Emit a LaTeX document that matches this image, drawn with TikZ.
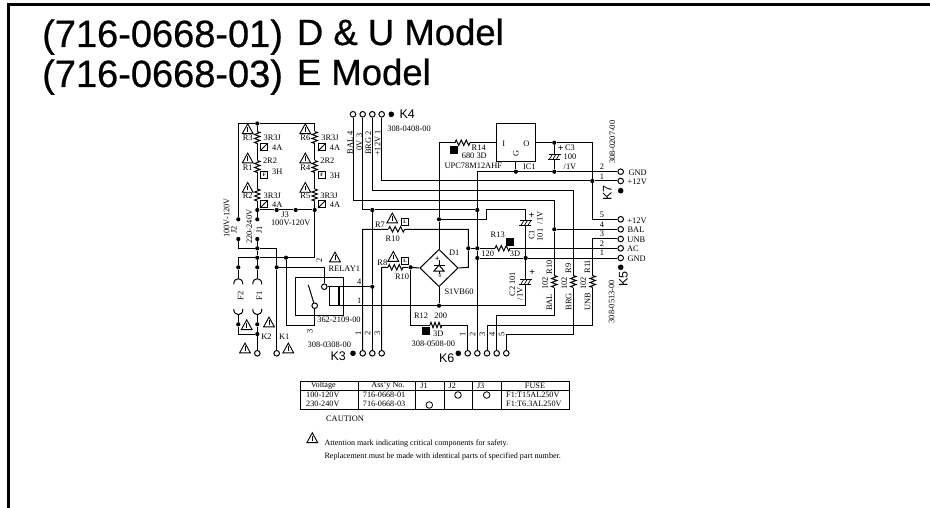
\documentclass[tikz,border=0pt]{standalone}
\usepackage{fontspec}
\setmainfont{Liberation Serif}
\newfontfamily\titlefont{Liberation Sans}
\newfontfamily\headfont[FakeBold=0.6]{Liberation Sans}
\usetikzlibrary{shapes.geometric}

\tikzset{
  wire/.style={line width=1pt},
  lab/.style={font=\fontsize{8.4}{9}\selectfont,inner sep=0pt},
  rlab/.style={lab,rotate=90},
  tbl/.style={font=\fontsize{8.2}{9}\selectfont,inner sep=0pt},
  note/.style={font=\fontsize{8.1}{9}\selectfont,inner sep=0pt,anchor=base west},
  klab/.style={font=\titlefont\fontsize{12.5}{13}\selectfont,inner sep=0pt},
  titnum/.style={font=\headfont\fontsize{38}{39}\selectfont,inner sep=0pt,anchor=base west},
  titmod/.style={font=\headfont\fontsize{36.5}{38}\selectfont,inner sep=0pt,anchor=base west},
  dot/.style={circle,fill=black,inner sep=0pt,minimum size=4.2pt},
  kdot/.style={circle,fill=black,inner sep=0pt,minimum size=5.6pt},
  term/.style={circle,draw,fill=white,line width=1pt,inner sep=0pt,minimum size=5.6pt},
  jmark/.style={circle,draw,line width=.8pt,inner sep=0pt,minimum size=6.6pt},
  bsq/.style={fill=black,inner sep=0pt,minimum size=8pt},
  plus/.style={font=\bfseries\fontsize{10}{10}\selectfont,inner sep=0pt},
  zig/.pic={
    \fill[white] (-6,-1.2) rectangle (6,1.2);
    \draw[wire] (-6,0) -- (-5,-2.7) -- (-3,2.7) -- (-1,-2.7) -- (1,2.7) -- (3,-2.7) -- (5,2.7) -- (6,0);
  },
  warn/.pic={
    \draw[line width=.9pt,fill=white] (-5.4,4.6) -- (5.4,4.6) -- (0,-5.2) -- cycle;
    \draw[line width=.6pt] (0,-2) -- (0,2.6);
  },
  capa/.pic={
    \fill[white] (-6.5,-2.6) rectangle (6.5,2.6);
    \draw[wire] (-5.5,-2.5) -- (6.5,-2.5);
    \draw[wire] (-6.5,2.5) -- (5.5,2.5);
    \draw[line width=.7pt] (-5,2.5) -- (-2,-2.5);
    \draw[line width=.7pt] (-1.5,2.5) -- (1.5,-2.5);
    \draw[line width=.7pt] (2,2.5) -- (5,-2.5);
  },
  fuse/.pic={
    \draw[wire] (-4.5,2) .. controls (-5,-5.5) and (5,-5.5) .. (4.5,2);
  },
  slashbox/.pic={
    \draw[line width=1pt,fill=white] (-3.7,-3.7) rectangle (3.7,3.7);
    \draw[wire] (-3.7,3.7) -- (3.7,-3.7);
  },
  tagbox/.pic={
    \draw[line width=1pt,fill=white] (-3.6,-3.6) rectangle (3.6,3.6);
    \node[font=\bfseries\fontsize{5}{5}\selectfont,inner sep=0pt] (tag) {#1};
  }
}

\begin{document}
\begin{tikzpicture}[x=1pt,y=-1pt]
\useasboundingbox (0,0) rectangle (930,508);

% Frame and heading
\draw[line width=3pt] (930,4.7) -- (8.8,4.7) -- (8.8,508);
\node[titnum] (tita) at (42,47) {(716-0668-01)};
\node[titmod] (titb) at (296.7,45) {D \& U Model};
\node[titnum] (titc) at (42,87) {(716-0668-03)};
\node[titmod] (titd) at (296.7,85) {E Model};

% Junction dots, left block
\node[dot] (jtop) at (257.3,123.5) {};
\node[dot] (ja) at (257.3,210) {};
\node[dot] (jb) at (276.7,210) {};
\node[dot] (jc) at (295.7,210) {};
\node[dot] (jd) at (314.7,210) {};
\node[dot] (je) at (257.3,219.3) {};
\node[dot] (jf) at (238.3,219.3) {};
\node[dot] (jg) at (257.3,239) {};
\node[dot] (jh) at (238.3,239) {};
\node[dot] (ji) at (257.3,248.3) {};
\node[dot] (jk) at (257.3,257.7) {};
\node[dot] (jl) at (286,257.7) {};
\node[dot] (jm) at (238.3,267.3) {};
\node[dot] (jn) at (257.3,267.3) {};
\node[dot] (jo) at (276.7,267.3) {};
\node[dot] (jp) at (238.3,324.3) {};
\node[dot] (jq) at (257.3,324.3) {};
\node[dot] (jr) at (257.3,334) {};

% Junction dots, right block
\node[dot] (js) at (372.3,210) {};
\node[dot] (jt) at (372.3,286.7) {};
\node[dot] (ju) at (439,219.3) {};
\node[dot] (jv) at (439,305.7) {};
\node[dot] (jw) at (410.7,267.3) {};
\node[dot] (jx) at (468.3,248.3) {};
\node[dot] (jy) at (477.3,248.3) {};
\node[dot] (jz) at (477.3,258) {};
\node[dot] (jaa) at (477.3,210) {};
\node[dot] (jab) at (525.7,258) {};
\node[dot] (jac) at (554.3,229.3) {};
\node[dot] (jad) at (515.9,171.7) {};
\node[dot] (jae) at (554.3,171.7) {};
\node[dot] (jaf) at (554.3,142.7) {};
\node[dot] (jag) at (592.3,181) {};

% Terminals
\node[term] (k1) at (276.7,353.3) {};
\node[term] (k2) at (257.3,353.3) {};
\node[term] (k3a) at (362.7,353.3) {};
\node[term] (k3b) at (372.3,353.3) {};
\node[term] (k3c) at (381.7,353.3) {};
\node[term] (k4a) at (353,114.3) {};
\node[term] (k4b) at (362.7,114.3) {};
\node[term] (k4c) at (372.3,114.3) {};
\node[term] (k4d) at (381.7,114.3) {};
\node[term] (k6a) at (467.7,353.3) {};
\node[term] (k6b) at (477.3,353.3) {};
\node[term] (k6c) at (487,353.3) {};
\node[term] (k6d) at (496.7,353.3) {};
\node[term] (k6e) at (506.3,353.3) {};
\node[term] (k7a) at (620.7,171.7) {};
\node[term] (k7b) at (620.7,181) {};
\node[term] (k5a) at (620.7,219.3) {};
\node[term] (k5b) at (620.7,229.3) {};
\node[term] (k5c) at (620.7,239) {};
\node[term] (k5d) at (620.7,248.3) {};
\node[term] (k5e) at (620.7,258) {};
\node[term] (rc) at (324.3,286.7) {};
\node[term] (rd) at (314.7,305.7) {};

% Connector marks
\node[kdot] (k3m) at (353,353.3) {};
\node[kdot] (k4m) at (391.3,114.3) {};
\node[kdot] (k6m) at (458.3,353.3) {};
\node[kdot] (k7m) at (620.7,190.7) {};
\node[kdot] (k5m) at (620.7,267.3) {};

% Bridge and regulator
\node[diamond,draw,wire,inner sep=0pt,minimum width=38.3pt,minimum height=37.4pt] (d1) at (439,268) {};
\node[draw,wire,inner sep=0pt,minimum width=38.3pt,minimum height=38.3pt] (ic) at (515.9,142.7) {};

% Bends
\coordinate (cr) at (314.7,257.7);
\coordinate (cl) at (238.3,257.7);
\coordinate (ci) at (276.7,248.3);
\coordinate (cg) at (286,325);
\coordinate (f2a) at (238.3,278);
\coordinate (f1a) at (257.3,278);
\coordinate (f2b) at (238.3,315.3);
\coordinate (f1b) at (257.3,315.3);
\coordinate (cp) at (238.3,334);
\coordinate (rba) at (329.3,286.7);
\coordinate (rbb) at (329.3,305.7);
\coordinate (cbal) at (554.3,200.3);
\coordinate (cbalb) at (554.3,315.7);
\coordinate (cbrg) at (573.3,190.7);
\coordinate (cbrgb) at (573.3,334.3);
\coordinate (cunb) at (592.7,325);
\coordinate (ca) at (362.7,229.3);
\coordinate (cb) at (468.3,229.3);
\coordinate (cc) at (468.3,267.3);
\coordinate (cd) at (467.7,325);
\coordinate (ce) at (410.7,325);
\coordinate (cgnd) at (477.3,171.7);
\coordinate (cf) at (592.3,142.7);
\coordinate (c1a) at (486.7,219.3);
\coordinate (c1b) at (486.7,210);
\coordinate (c1c) at (525.7,210);
\coordinate (c1d) at (525.7,305.7);

% Draw the left block wiring
\draw[wire] (jtop) -| (jf);
\draw[wire] (jtop) -| (jd);
\draw[wire] (jtop) -- (ja) -- (je);
\draw[wire] (ja) -- (jb) -- (jc) -- (jd);
\draw[wire] (jd) -- (cr) -- (jl) -- (jk) -- (cl) -- (jm);
\draw[wire] (jg) -- (ji) -- (jk) -- (jn);
\draw[wire] (jh) |- (ji) -- (ci) -- (jo) -- (k1);
\draw[wire] (jo) -| (rc);
\draw[wire] (jl) -- (cg) -| (rd);
\draw[wire] (jm) -- (f2a);
\draw[wire] (jn) -- (f1a);
\draw[wire] (f2b) -- (jp) -- (cp) -- (jr);
\draw[wire] (f1b) -- (jq) -- (jr) -- (k2);

% Draw the relay
\draw[wire] (295.7,277) rectangle (343.7,315.3);
\draw[wire] (308.3,285) -- (rd);
\draw[wire] (rc) -- (jt);
\draw[wire] (rba) -- (rbb);
\draw[wire] (338.2,286.7) -- (338.2,305.7);
\draw[wire] (339.6,286.7) -- (339.6,305.7);

% Draw the long wires
\draw[wire] (k4a) |- (cbal) -- (jac) -- (cbalb) -| (k6d);
\draw[wire] (k4b) |- (js) -- (jaa);
\draw[wire] (k4c) |- (cbrg) -- (cbrgb) -| (k6e);
\draw[wire] (k4d) |- (jag) -- (k7b);
\draw[wire] (js) -- (jt) -- (k3b);
\draw[wire] (jac) -- (k5b);
\draw[wire] (k3a) -- (ca) -- (cb) -- (jx) -- (cc) -- (d1.east);
\draw[wire] (k3c) |- (jw) -- (d1.west);
\draw[wire] (jw) -- (ce) -- (cd) -- (k6a);
\draw[wire] (jx) -- (jy) -- (k5d);
\draw[wire] (k6b) -- (jz) -- (jy) -- (jaa) -- (cgnd) -- (jad) -- (jae) -- (k7a);
\draw[wire] (jz) -- (jab) -- (k5e);
\draw[wire] (k6c) |- (cunb) |- (k5c);
\draw[wire] (ju) |- (ic.west);
\draw[wire] (ju) -- (d1.north);
\draw[wire] (d1.south) -- (jv);
\draw[wire] (ic.south) -- (jad);
\draw[wire] (ic.east) -- (jaf) -- (cf) -- (jag) |- (k5a);
\draw[wire] (jaf) -- (jae);
\draw[wire] (ju) -- (c1a) -- (c1b) -- (c1c) -- (jab) -- (c1d) -- (jv) -- (rbb);

% Draw the resistors
\pic[rotate=90] at (257.3,137.5) {zig};
\pic[rotate=90] at (257.3,166.5) {zig};
\pic[rotate=90] at (257.3,195) {zig};
\pic[rotate=90] at (314.7,137.5) {zig};
\pic[rotate=90] at (314.7,166.5) {zig};
\pic[rotate=90] at (314.7,195) {zig};
\pic[xscale=1.25] at (462.5,142.7) {zig};
\pic[xscale=1.25] at (502.5,248.3) {zig};
\pic at (436,325) {zig};
\pic[xscale=1.35] at (396.5,229.3) {zig};
\pic[xscale=1.25] at (395.5,267.3) {zig};
\pic[rotate=90] at (554.3,281.5) {zig};
\pic[rotate=90] at (573.3,281.5) {zig};
\pic[rotate=90] at (592.7,281.5) {zig};

% Draw the capacitors
\pic at (554.3,157) {capa};
\pic at (525.9,223) {capa};
\pic at (525.9,281.7) {capa};
\node[plus] (c3p) at (560.7,149) {+};
\node[plus] (c1p) at (531.7,216) {+};
\node[plus] (c2p) at (532.3,272.7) {+};

% Draw the fuses
\pic at (238.3,282.3) {fuse};
\pic at (257.3,282.3) {fuse};
\pic[yscale=-1] at (238.3,311) {fuse};
\pic[yscale=-1] at (257.3,311) {fuse};

% Draw the bridge diode
\draw[wire] (439,260) -- (439,274);
\draw[wire,fill=white] (434,271) -- (444,271) -- (439,265) -- cycle;
\draw[wire] (433.5,265) -- (444.5,265);
\node[lab] (d1p) at (437.3,259) {\bfseries +};
\node[lab,font=\fontsize{5}{5}\selectfont] (d1i) at (440,275.7) {II};

% Warning marks
\pic at (247.7,129) {warn};
\pic at (247.7,158.3) {warn};
\pic at (247.7,187.7) {warn};
\pic at (305.3,129) {warn};
\pic at (305.3,158.3) {warn};
\pic at (305.3,187.7) {warn};
\pic at (246.7,325) {warn};
\pic at (269,322.3) {warn};
\pic at (245,348.3) {warn};
\pic at (288.3,348.3) {warn};
\pic at (335,257.3) {warn};
\pic at (392.3,218.3) {warn};
\pic at (393.3,256.7) {warn};
\pic at (312.3,438) {warn};

% Part boxes and squares
\pic at (263.7,147.3) {slashbox};
\pic at (263.7,204.3) {slashbox};
\pic at (321.7,147.3) {slashbox};
\pic at (321.7,204.3) {slashbox};
\pic at (264.3,175.3) {tagbox=F};
\pic at (322,175.3) {tagbox=F};
\pic at (405,222.3) {tagbox=L};
\pic at (405,260.7) {tagbox=L};
\node[bsq] (r14q) at (454.3,149.7) {};
\node[bsq] (r13q) at (510,241.7) {};
\node[bsq] (r12q) at (425.7,331) {};

% Labels, left block
\node[lab] (r3) at (247.7,137.7) {R3};
\node[lab] (r1) at (247.7,167.3) {R1};
\node[lab] (r2) at (247.7,195.7) {R2};
\node[lab] (r6) at (305.3,137.7) {R6};
\node[lab] (r4) at (305.3,167.3) {R4};
\node[lab] (r5) at (305.3,195.7) {R5};
\node[lab] (r3v) at (272.3,137.3) {3R3J};
\node[lab] (r1v) at (270,160.7) {2R2};
\node[lab] (r2v) at (272.3,195.3) {3R3J};
\node[lab] (r6v) at (330,137.3) {3R3J};
\node[lab] (r4v) at (327.3,160.7) {2R2};
\node[lab] (r5v) at (329,195.3) {3R3J};
\node[lab] (r3a) at (277.3,147.3) {4A};
\node[lab] (r1h) at (277.3,171.3) {3H};
\node[lab] (r2a) at (277.3,204.3) {4A};
\node[lab] (r6a) at (335,147.3) {4A};
\node[lab] (r4h) at (335,176) {3H};
\node[lab] (r5a) at (335,204.3) {4A};
\node[lab] (j3) at (285,214.7) {J3};
\node[lab] (j3v) at (290.7,222.7) {100V-120V};
\node[rlab] (j1) at (259.3,230) {J1};
\node[rlab] (j2) at (234,230) {J2};
\node[rlab] (vlo) at (226.7,218) {100V-120V};
\node[rlab] (vhi) at (249.3,226.7) {220-240V};
\node[rlab] (f2l) at (240.5,296) {F2};
\node[rlab] (f1l) at (259.3,296) {F1};
\node[lab] (k2l) at (266.5,337) {K2};
\node[lab] (k1l) at (284.3,337) {K1};
\node[lab] (rly) at (344.3,269) {RELAY1};
\node[lab] (rlyn) at (339,320) {362-2109-00};
\node[rlab] (rl2) at (319.3,260.7) {2};
\node[rlab] (rl3) at (310,331.7) {3};
\node[lab] (rl4) at (359.3,281.7) {4};
\node[lab] (rl1) at (359.3,300.7) {1};

% Labels, K3 and K4
\node[lab] (k3n) at (329.3,344.3) {308-0308-00};
\node[klab] (k3l) at (338.3,356) {K3};
\node[rlab] (k3x) at (358.3,333) {1};
\node[rlab] (k3y) at (367.7,333) {2};
\node[rlab] (k3z) at (377.3,333) {3};
\node[klab] (k4l) at (407.3,114) {K4};
\node[lab] (k4n) at (409,128.3) {308-0408-00};
\node[rlab] (k4w) at (350,143) {BAL 4};
\node[rlab] (k4x) at (359.3,142) {0V 3};
\node[rlab] (k4y) at (368.3,143) {BRG 2};
\node[rlab] (k4z) at (377.7,143) {+12V 1};

% Labels, centre
\node[lab] (r7) at (380,224.3) {R7};
\node[lab] (r7v) at (392.7,239) {R10};
\node[lab] (r8) at (382.3,262.7) {R8};
\node[lab] (r8v) at (402,276.7) {R10};
\node[lab] (d1l) at (454.3,252.3) {D1};
\node[lab] (d1n) at (459,291.7) {S1VB60};
\node[lab] (r12) at (421,316) {R12};
\node[lab] (r12v) at (440.7,316) {200};
\node[lab] (r12p) at (438.3,334) {3D};
\node[lab] (k6n) at (433.3,344) {308-0508-00};
\node[klab] (k6l) at (446.7,357.7) {K6};
\node[rlab] (k6v) at (462.7,334) {1};
\node[rlab] (k6w) at (472.7,334) {2};
\node[rlab] (k6x) at (482.3,334) {3};
\node[rlab] (k6y) at (492,334) {4};
\node[rlab] (k6z) at (501.7,334) {5};
\node[lab] (r14) at (478.7,147.7) {R14};
\node[lab] (r14v) at (474.3,156) {680 3D};
\node[lab] (icn) at (473.3,166) {UPC78M12AHF};
\node[lab] (icl) at (529.3,167) {IC1};
\node[lab] (ici) at (503.7,143.3) {I};
\node[lab] (ico) at (526.3,143.3) {O};
\node[rlab] (icg) at (516,153.3) {G};
\node[lab] (c3) at (570,147.7) {C3};
\node[lab] (c3v) at (570,157) {100};
\node[lab] (c3u) at (570,167) {/1V};
\node[lab] (r13) at (497.7,235) {R13};
\node[lab] (r13v) at (487.7,253.3) {120};
\node[lab] (r13p) at (515,253.3) {3D};
\node[rlab] (c1) at (531.7,235) {C1};
\node[rlab] (c1v) at (540,235) {101};
\node[rlab] (c1u) at (540,218) {/1V};
\node[rlab] (c2) at (512.3,291.7) {C2};
\node[rlab] (c2v) at (512.3,278.3) {101};
\node[rlab] (c2u) at (520,294) {/1V};

% Labels, R9 to R11
\node[rlab] (r10l) at (549.3,267.3) {R10};
\node[rlab] (r10v) at (545,283.3) {102};
\node[rlab] (r10n) at (549.3,302.3) {BAL};
\node[rlab] (r9l) at (568.3,268.3) {R9};
\node[rlab] (r9v) at (564.3,283.3) {102};
\node[rlab] (r9n) at (568.7,301.7) {BRG};
\node[rlab] (r11l) at (587.3,266.7) {R11};
\node[rlab] (r11v) at (583.3,283.3) {102};
\node[rlab] (r11n) at (587.7,301.7) {UNB};

% Labels, K5 and K7
\node[lab] (k7x) at (602,166.7) {2};
\node[lab] (k7y) at (602,176.7) {1};
\node[lab] (k5v) at (602,215) {5};
\node[lab] (k5w) at (602,225) {4};
\node[lab] (k5x) at (602,234) {3};
\node[lab] (k5y) at (602,243.7) {2};
\node[lab] (k5z) at (602,253) {1};
\node[lab] (k7g) at (637.7,173) {GND};
\node[lab] (k7p) at (637.3,182) {+12V};
\node[lab] (k5p) at (637,220.3) {+12V};
\node[lab] (k5t) at (636,230) {BAL};
\node[lab] (k5u) at (636.3,239.7) {UNB};
\node[lab] (k5s) at (633,249) {AC};
\node[lab] (k5g) at (636.7,258.7) {GND};
\node[rlab] (k7n) at (612.3,142.3) {308-0207-00};
\node[rlab] (k5n) at (611.7,301.7) {308-0513-00};
\node[klab,rotate=90] (k7l) at (607.3,193.3) {K7};
\node[klab,rotate=90] (k5l) at (623.3,279.3) {K5};

% Draw the table
\draw[line width=.8pt] (300.7,381) rectangle (569,409);
\draw[line width=.8pt] (300.7,390) -- (569,390);
\foreach \x in {358,415,444,472.7,501.7}
  \draw[line width=.8pt] (\x,381) -- (\x,409);
\node[tbl] (hv) at (323.3,385.5) {Voltage};
\node[tbl] (ha) at (388,385.5) {Ass'y No.};
\node[tbl] (hj1) at (424,385.5) {J1};
\node[tbl] (hj2) at (452.3,385.5) {J2};
\node[tbl] (hj3) at (480.7,385.5) {J3};
\node[tbl] (hf) at (535,385.5) {FUSE};
\node[tbl,anchor=west] (vlow) at (306,395) {100-120V};
\node[tbl,anchor=west] (vhigh) at (306,403.5) {230-240V};
\node[tbl,anchor=west] (aone) at (362.7,395) {716-0668-01};
\node[tbl,anchor=west] (atwo) at (362.7,403.5) {716-0668-03};
\node[tbl,anchor=west] (fone) at (506,395) {F1:T15AL250V};
\node[tbl,anchor=west] (ftwo) at (506,403.5) {F1:T6.3AL250V};
\node[jmark] (mjb) at (458,395) {};
\node[jmark] (mjc) at (486.7,395) {};
\node[jmark] (mja) at (429.3,405) {};

% Caution notes
\node[lab] (caut) at (345,419) {CAUTION};
\node[note] (nota) at (324.3,445) {Attention mark indicating critical components for safety.};
\node[note] (notb) at (324.3,458.5) {Replacement must be made with identical parts of specified part number.};

\end{tikzpicture}
\end{document}
